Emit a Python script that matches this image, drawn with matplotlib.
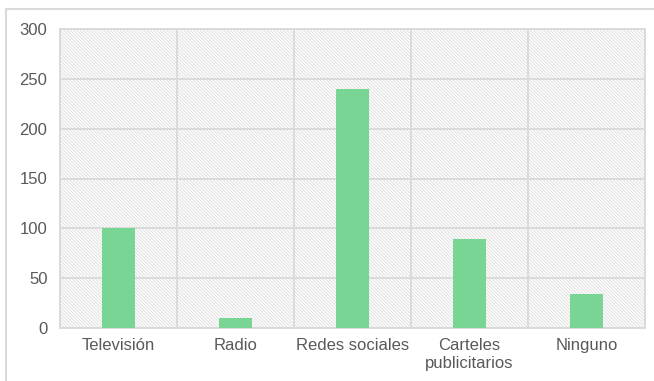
import matplotlib.pyplot as plt
from matplotlib.patches import Rectangle
import numpy as np

categories = ["Televisión", "Radio", "Redes sociales", "Carteles\npublicitarios", "Ninguno"]
counts = [100, 10, 240, 89, 34]
y_ticks = [0, 50, 100, 150, 200, 250, 300]

plt.rcParams['font.family'] = ['Liberation Sans', 'DejaVu Sans']
plt.rcParams['hatch.linewidth'] = 0.8

grid_col = '#d9d9d9'
text_col = '#595959'
bar_col = '#78d594'

fig = plt.figure(figsize=(6.54, 3.81), dpi=100)

# light frame around the chart (runs off the right and bottom edges)
fig.patches.append(Rectangle((6 / 654, -0.05), 1.0, (372 / 381) + 0.05,
                             transform=fig.transFigure, fill=False,
                             edgecolor=grid_col, linewidth=1.5))

ax = fig.add_axes([60 / 654, 53 / 381, 585 / 654, 299 / 381])

# hatched plot background
ax.add_patch(Rectangle((0, 0), 1, 1, transform=ax.transAxes, facecolor='white',
                       edgecolor='#e3e3e3', hatch='\\' * 10, linewidth=0, zorder=0))

x = np.arange(len(categories))
ax.bar(x, counts, width=0.28, color=bar_col, zorder=3)

ax.set_xlim(-0.5, len(categories) - 0.5)
ax.set_ylim(0, 300)
ax.set_yticks(y_ticks)
ax.set_xticks(x)
ax.set_xticklabels(categories, linespacing=1.25)

# category separators and value gridlines
for b in np.arange(-0.5, len(categories), 1.0):
    ax.axvline(b, color=grid_col, linewidth=1.3, zorder=1)
for t in y_ticks:
    ax.axhline(t, color=grid_col, linewidth=1.3, zorder=1)

for s in ax.spines.values():
    s.set_color(grid_col)
    s.set_linewidth(1.3)

ax.tick_params(axis='both', length=0, labelsize=12, colors=text_col)
ax.tick_params(axis='y', pad=9)
ax.tick_params(axis='x', pad=7)

fig.savefig('out.png', dpi=100)
